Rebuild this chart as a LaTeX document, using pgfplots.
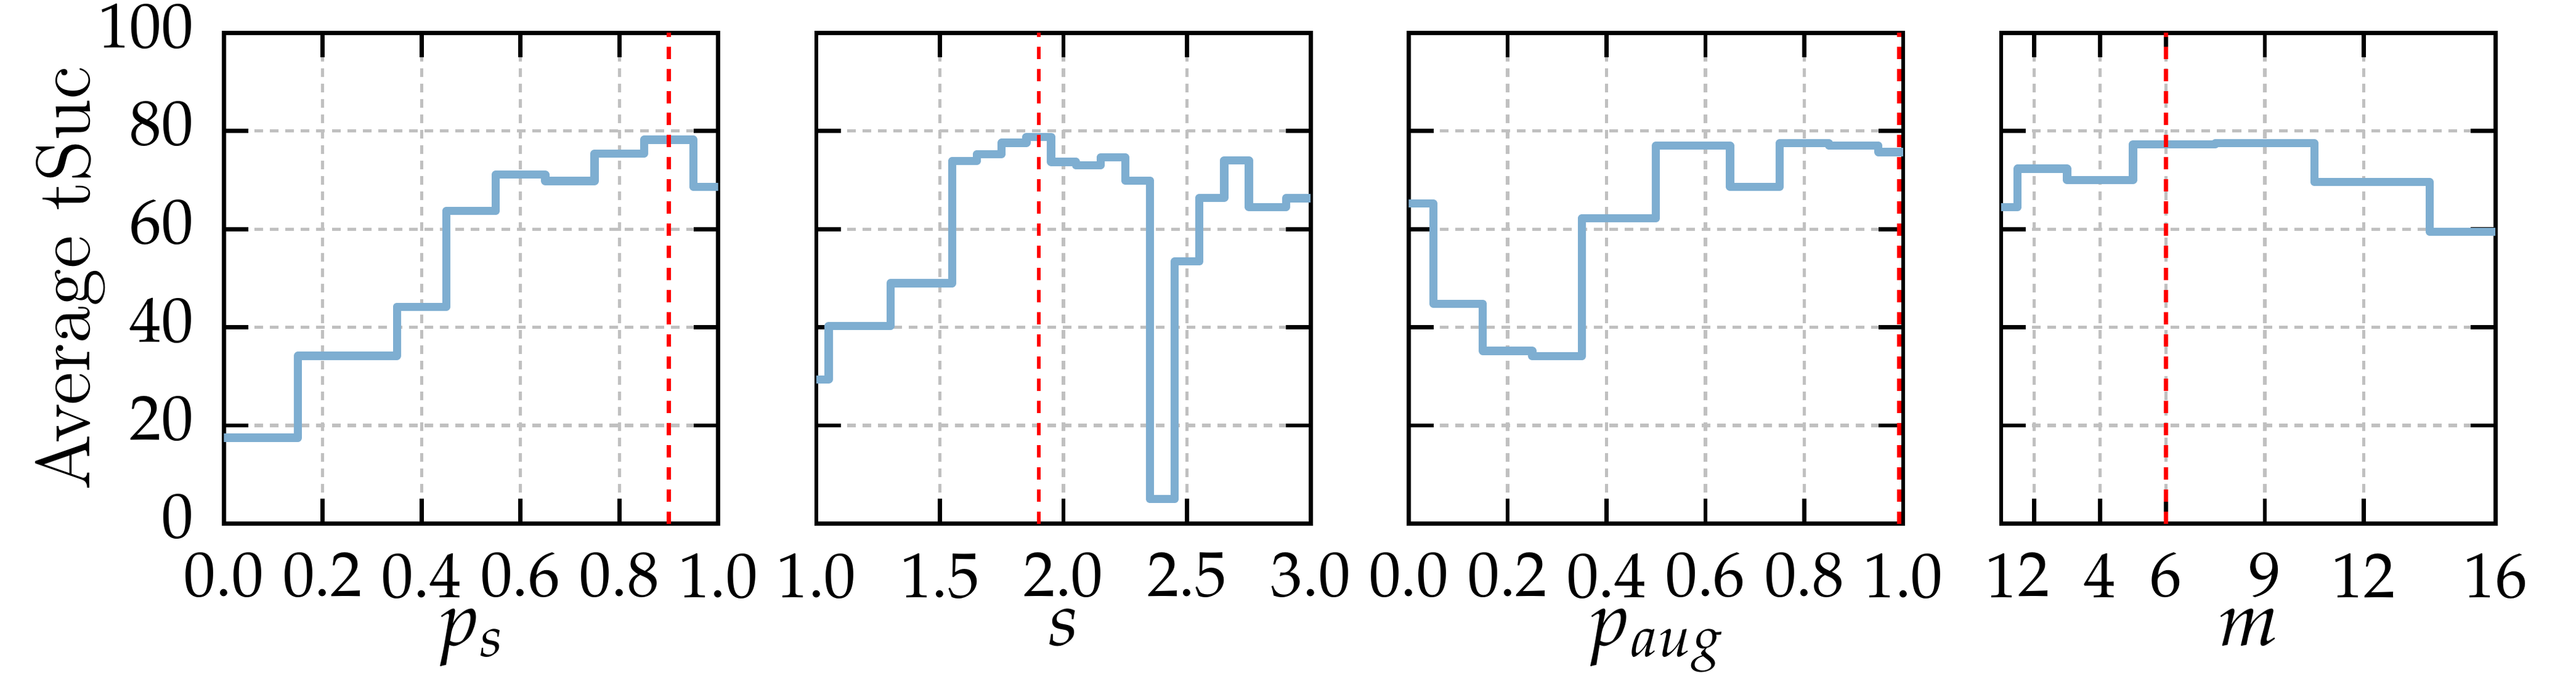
\documentclass[border=0pt]{standalone}
\usepackage{mathpazo}
\usepackage{pgfplots}
\pgfplotsset{compat=1.18}
\definecolor{lineblue}{RGB}{126,174,209}
\definecolor{gridgray}{RGB}{192,192,192}
\pgfplotsset{
  layers/gridbelow/.define layer set={axis background,axis grid,main,axis ticks,axis lines,axis tick labels,axis descriptions,axis foreground}{},
  set layers=gridbelow,
  panel/.style={
    scale only axis, width=77.9pt, height=77.4pt,
    ymin=0, ymax=100, ytick={0,20,40,60,80,100},
    grid=major,
    major grid style={gridgray, line width=0.52pt, dash pattern=on 1.36pt off 1.07pt},
    axis line style={line width=0.65pt},
    every tick/.style={black, line width=0.65pt},
    major tick length=3.9pt,
    tick align=inside, tick pos=both,
    tick label style={font=\fontsize{10}{12}\selectfont},
    xticklabel style={yshift=-1.1pt},
    yticklabel style={xshift=-1.3pt, yshift=1.1pt},
    label style={font=\fontsize{12}{14}\selectfont},
    xlabel style={at={(axis description cs:0.5,-0.248)}, anchor=base},
    ylabel style={at={(axis description cs:-0.271,0.5)}, anchor=base},
  },
  onedec/.style={xticklabel style={/pgf/number format/fixed,
      /pgf/number format/fixed zerofill, /pgf/number format/precision=1}},
  % step edges; each level holds until the next x
  steps/.style={lineblue, line width=1.29pt, line join=round, const plot, no marks},
  best/.style={red, line width=0.65pt, dash pattern=on 1.94pt off 1.55pt},
}
\begin{document}
\begin{tikzpicture}

% p_s
\begin{axis}[panel, at={(0pt,0pt)}, xmin=0, xmax=1,
  xtick={0,0.2,0.4,0.6,0.8,1}, onedec,
  xlabel={$p_s$}, ylabel={Average tSuc}]
\addplot[steps] coordinates {(0,17.5) (0.15,34.2) (0.35,44.2) (0.45,63.7)
  (0.55,71.1) (0.65,69.8) (0.75,75.4) (0.85,78.2) (0.95,68.6) (1.0,68.6)};
\addplot[best] coordinates {(0.9,0) (0.9,100)};
\end{axis}

% s
\begin{axis}[panel, at={(93.35pt,0pt)}, xmin=1, xmax=3,
  xtick={1,1.5,2,2.5,3}, onedec, yticklabels={},
  xlabel={$s$}]
\addplot[steps] coordinates {(1.0,29.4) (1.05,40.3) (1.3,49.0) (1.55,73.9)
  (1.65,75.3) (1.75,77.6) (1.85,78.8) (1.95,73.7) (2.05,73.0) (2.15,74.6)
  (2.25,69.9) (2.35,5.0) (2.45,53.4) (2.55,66.4) (2.65,74.0) (2.75,64.5)
  (2.9,66.3) (3.0,66.3)};
\addplot[best] coordinates {(1.9,0) (1.9,100)};
\end{axis}

% p_aug
\begin{axis}[panel, at={(186.7pt,0pt)}, xmin=0, xmax=1,
  xtick={0,0.2,0.4,0.6,0.8,1}, onedec, yticklabels={},
  xlabel={$p_{aug}$}]
\addplot[steps] coordinates {(0,65.2) (0.05,44.8) (0.15,35.2) (0.25,34.1)
  (0.35,62.2) (0.5,77.0) (0.65,68.6) (0.75,77.5) (0.85,77.0) (0.95,75.7)
  (1.0,75.7)};
% at the right edge: nudged inside so it is not hidden by the frame
\addplot[best, xshift=-0.65pt] coordinates {(1.0,0) (1.0,100)};
\end{axis}

% m
\begin{axis}[panel, at={(280.05pt,0pt)}, xmin=1, xmax=16,
  xtick={1,2,4,6,9,12,16}, yticklabels={},
  xlabel={$m$}]
\addplot[steps] coordinates {(1,64.5) (1.5,72.3) (3,70.0) (5,77.3)
  (7.5,77.5) (10.5,69.6) (14,59.5) (16,59.5)};
\addplot[best] coordinates {(6,0) (6,100)};
\end{axis}

% page as in the reference
\pgfresetboundingbox
\path[use as bounding box] (-35.27pt,-25.24pt) rectangle (370.63pt,82.57pt);
\end{tikzpicture}
\end{document}
